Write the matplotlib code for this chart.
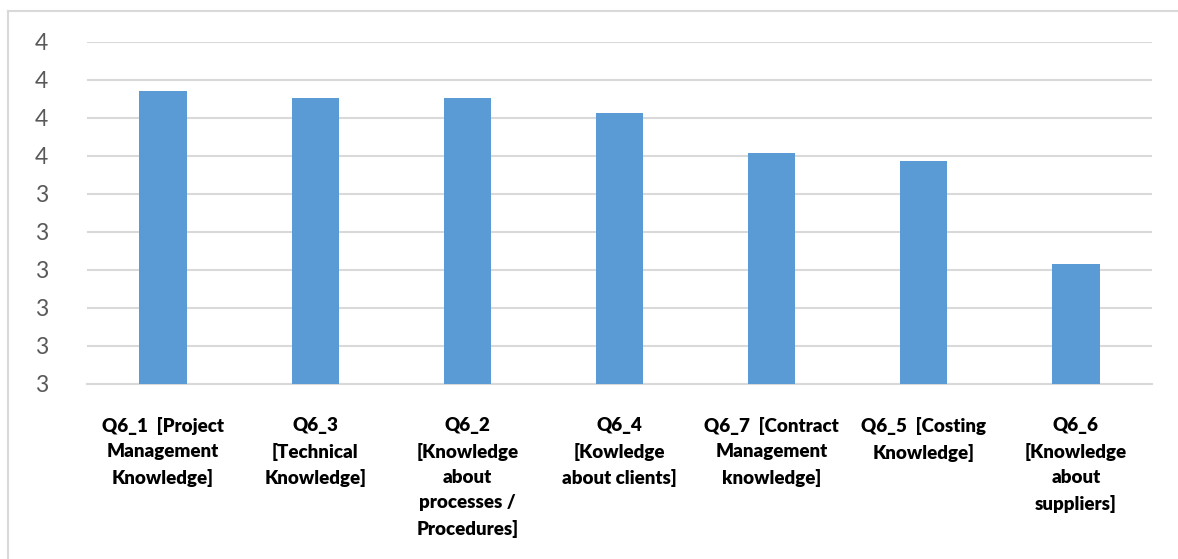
import math
import matplotlib
matplotlib.use("Agg")
import matplotlib.pyplot as plt
from matplotlib.ticker import FixedLocator, FuncFormatter
from matplotlib.lines import Line2D

categories = [
    "Q6_1  [Project\nManagement\nKnowledge]",
    "Q6_3\n[Technical\nKnowledge]",
    "Q6_2\n[Knowledge\nabout\nprocesses /\nProcedures]",
    "Q6_4\n[Kowledge\nabout clients]",
    "Q6_7  [Contract\nManagement\nknowledge]",
    "Q6_5  [Costing\nKnowledge]",
    "Q6_6\n[Knowledge\nabout\nsuppliers]",
]
values = [3.67, 3.653, 3.652, 3.612, 3.508, 3.485, 3.214]
y_ticks = [2.9, 3.0, 3.1, 3.2, 3.3, 3.4, 3.5, 3.6, 3.7, 3.8]

W, H = 1178, 559
fig = plt.figure(figsize=(W / 100, H / 100), dpi=100)
fig.patch.set_facecolor("white")

# outer chart frame (top and left edges)
frame_color = "#D9D9D9"
fig.add_artist(Line2D([8 / W, 1.0], [1 - 11 / H, 1 - 11 / H], color=frame_color, lw=1.5,
                      transform=fig.transFigure))
fig.add_artist(Line2D([8 / W, 8 / W], [1 - 11 / H, 0.0], color=frame_color, lw=1.5,
                      transform=fig.transFigure))

left, right = 87 / W, 1152 / W
bottom, top = 1 - 383.7 / H, 1 - 41.7 / H
ax = fig.add_axes([left, bottom, right - left, top - bottom])

x = list(range(len(categories)))
ax.bar(x, values, width=0.31, color="#5B9BD5", zorder=3)

ax.set_xlim(-0.5, len(categories) - 0.5)
ax.set_ylim(y_ticks[0], y_ticks[-1])

ax.yaxis.set_major_locator(FixedLocator(y_ticks))
ax.yaxis.set_major_formatter(FuncFormatter(lambda v, p: str(int(math.floor(v + 0.5 + 1e-9)))))
ax.grid(axis="y", color="#D9D9D9", lw=1.5, zorder=0)
ax.set_axisbelow(True)

for s in ["top", "right", "left"]:
    ax.spines[s].set_visible(False)
ax.spines["bottom"].set_color("#D9D9D9")
ax.spines["bottom"].set_linewidth(1.5)

ax.tick_params(axis="y", length=0, pad=28, labelsize=16.5, labelcolor="#595959")
for lbl in ax.get_yticklabels():
    lbl.set_fontfamily("Lato")

ax.set_xticks(x)
ax.set_xticklabels(categories, fontsize=13.5, fontweight="heavy", family="Lato",
                   linespacing=1.58, color="black")
ax.tick_params(axis="x", length=0, pad=24)

fig.savefig("out.png", dpi=100, facecolor="white")
